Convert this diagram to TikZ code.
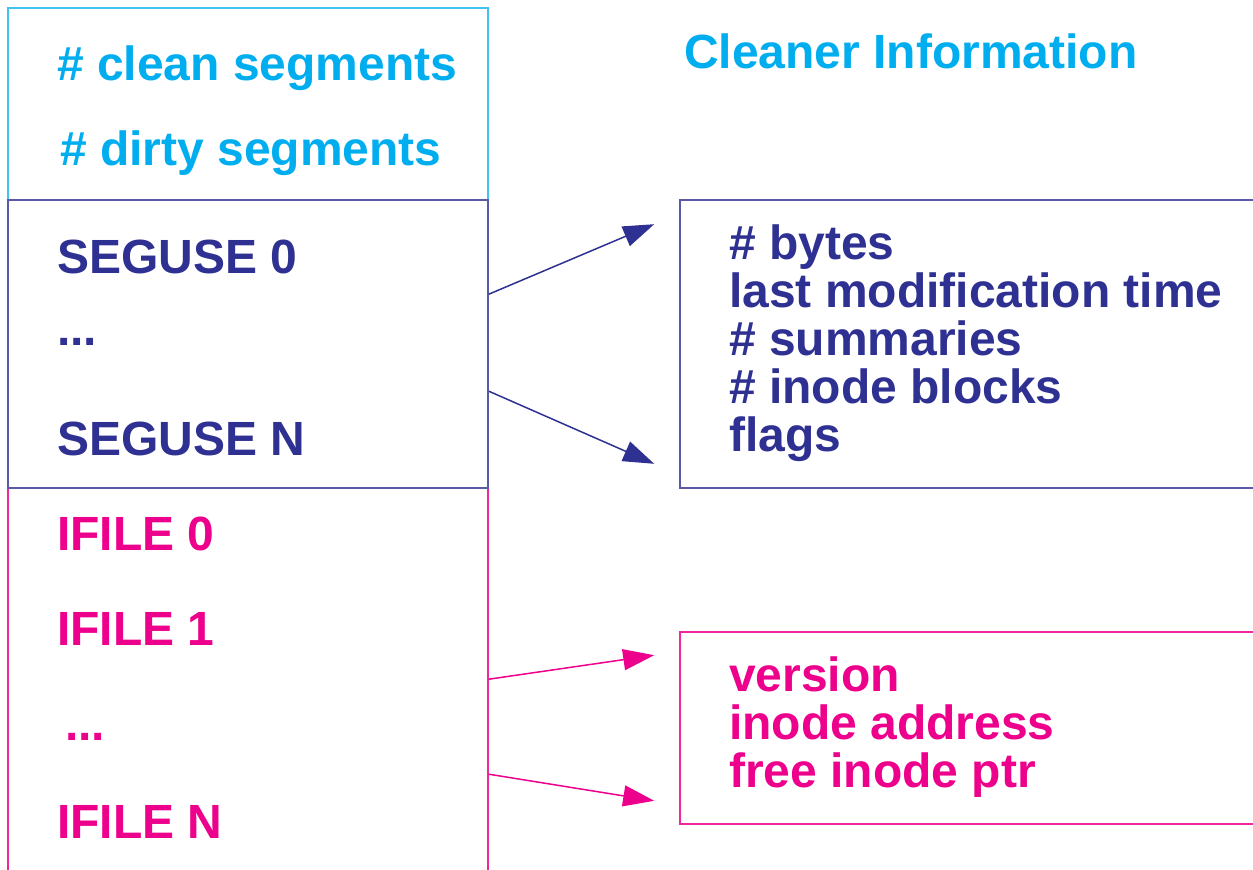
\documentclass[tikz,border=0pt]{standalone}
\usepackage{fontspec}
\setmainfont{Liberation Sans}
\usetikzlibrary{arrows.meta}

\definecolor{cleancol}{HTML}{00AEEF}
\definecolor{segcol}{HTML}{2E3192}
\definecolor{filecol}{HTML}{EC008C}

\tikzset{
  cell/.style={rectangle,minimum width=480pt,inner sep=0pt,line width=1.6pt},
  infobox/.style={rectangle,minimum width=583pt,inner sep=0pt,line width=1.6pt},
  label/.style={anchor=base west,inner sep=0pt,font=\bfseries\fontsize{48}{48}\selectfont},
  lines/.style={label,align=left},
  ptr/.style={line width=1.5pt,-{Triangle[length=31pt,width=21pt]}}
}

\begin{document}
\begin{tikzpicture}[x=1pt,y=-1pt]
  \useasboundingbox (0,0) rectangle (1253,870);
  \clip (0,0) rectangle (1253,870);
  % left column
  \node[cell,draw=cleancol!75,minimum height=192pt] (hdr) at (248,104) {};
  \node[cell,draw=filecol!85,minimum height=392pt] (ifile) at (248,684) {};
  \node[cell,draw=segcol!80,minimum height=288pt] (seg) at (248,344) {};
  \node[label,text=cleancol] (clean) at (57,80) {\# clean segments};
  \node[label,text=cleancol] (dirty) at (60,165) {\# dirty segments};
  \node[label,text=segcol] (seg0) at (57,273) {SEGUSE 0};
  \node[label,text=segcol] (segdots) at (57,345) {...};
  \node[label,text=segcol] (segN) at (57,455) {SEGUSE N};
  \node[label,text=filecol] (if0) at (57,550) {IFILE 0};
  \node[label,text=filecol] (if1) at (57,645) {IFILE 1};
  \node[label,text=filecol] (ifdots) at (65,740) {...};
  \node[label,text=filecol] (ifN) at (57,838) {IFILE N};
  % right side (base = last line)
  \node[label,text=cleancol] (title) at (684,68) {Cleaner Information};
  \node[infobox,draw=segcol!80,minimum height=288pt] (info) at (971.5,344) {};
  \node[infobox,draw=filecol!85,minimum height=192pt] (entry) at (971.5,728) {};
  \node[lines,text=segcol] (infotxt) at (729,451)
    {\# bytes\\last modification time\\\# summaries\\\# inode blocks\\flags};
  \node[lines,text=filecol] (entrytxt) at (729,787)
    {version\\inode address\\free inode ptr};
  % pointers
  \coordinate (tipA) at ([xshift=-25pt,yshift=-25pt]info.north west);
  \coordinate (tipB) at ([xshift=-25pt,yshift=25pt]info.south west);
  \coordinate (tipC) at ([xshift=-25pt,yshift=-24pt]entry.north west);
  \coordinate (tipD) at ([xshift=-25pt,yshift=24pt]entry.south west);
  \draw[ptr,segcol] ([yshift=-95pt]seg.north east) -- (tipA);
  \draw[ptr,segcol] ([yshift=-192pt]seg.north east) -- (tipB);
  \draw[ptr,filecol] ([yshift=-192pt]ifile.north east) -- (tipC);
  \draw[ptr,filecol] ([yshift=-287pt]ifile.north east) -- (tipD);
\end{tikzpicture}
\end{document}
